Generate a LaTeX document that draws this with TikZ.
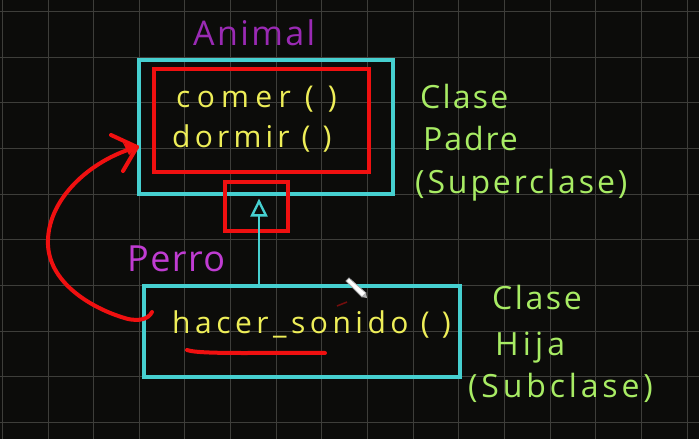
\documentclass[tikz,border=0pt]{standalone}
\usepackage{fontspec}
\usetikzlibrary{arrows.meta}
\newfontfamily\hand{Open Sans}
\definecolor{bg}{HTML}{0C0C0A}
\definecolor{gridc}{HTML}{3E3E3A}
\definecolor{cyanc}{HTML}{46D0D0}
\definecolor{redc}{HTML}{F01010}
\definecolor{yellowc}{HTML}{EEEE58}
\definecolor{greenc}{HTML}{A8EC64}
\definecolor{purplec}{HTML}{9A2AB4}
\definecolor{magentac}{HTML}{C03CD2}
\tikzset{
  gridline/.style={draw=gridc, line width=0.9pt},
  classbox/.style={draw=cyanc, line width=3.2pt, inner sep=0pt},
  hilite/.style={draw=redc, line width=4.8pt, inner sep=0pt},
  txt/.style={inner sep=0pt, anchor=base west},
  method/.style={txt, text=yellowc, font=\hand\fontsize{30}{36}\selectfont},
  label/.style={txt, text=greenc, font=\hand\fontsize{32}{38}\selectfont},
  inh/.style={draw=cyanc, line width=2.4pt, -{Triangle[open, length=18pt, width=17pt, line width=2.4pt]}},
  redpen/.style={draw=redc, line width=4pt, line cap=round, line join=round},
}
\begin{document}
\begin{tikzpicture}[x=1pt, y=-1pt]
\useasboundingbox (0,0) rectangle (699,439);
\fill[bg] (0,0) rectangle (699,439);
\foreach \i in {0,...,15} \draw[gridline] ({2.3+45.65*\i},0) -- ({2.3+45.65*\i},439);
\foreach \j in {0,...,9} \draw[gridline] (0,{11.5+45.65*\j}) -- (699,{11.5+45.65*\j});

% parent class
\node[classbox, minimum width=254pt, minimum height=134pt] (parent) at (266,127) {};
\node[hilite, minimum width=215pt, minimum height=103pt] (methods) at (261.5,120.5) {};
\node[txt, text=purplec, font=\hand\fontsize{34}{40}\selectfont] (animal) at (193,45) {\addfontfeature{LetterSpace=7}Animal};
\node[method] (comer) at (176,107) {\addfontfeature{LetterSpace=21}comer ( )};
\node[method] (dormir) at (172,147) {\addfontfeature{LetterSpace=14}dormir ( )};

% child class
\node[classbox, minimum width=316pt, minimum height=91pt] (child) at (302,331.5) {};
\node[txt, text=magentac, font=\hand\fontsize{36}{42}\selectfont] (perro) at (127,271) {\addfontfeature{LetterSpace=4}Perro};
\node[method] (hs) at (172,333) {\addfontfeature{LetterSpace=15}hacer\_sonido ( )};

% inheritance arrow with highlight
\node[hilite, minimum width=63pt, minimum height=49pt] (tiphl) at (256.5,206.5) {};
\coordinate (ax) at (259,0);
\draw[inh] (child.north -| ax) -- ([yshift=-3pt]parent.south -| ax);

% labels
\node[label] (c1) at (420,108) {\addfontfeature{LetterSpace=7}Clase};
\node[label] (p1) at (423,150) {\addfontfeature{LetterSpace=6}Padre};
\node[label] (s1) at (415,193) {\addfontfeature{LetterSpace=9}(Superclase)};
\node[label] (c2) at (492,309) {\addfontfeature{LetterSpace=8}Clase};
\node[label] (h2) at (495,355) {\addfontfeature{LetterSpace=13}Hija};
\node[label] (s2) at (468,397) {\addfontfeature{LetterSpace=12}(Subclase)};

% red annotations
\coordinate (cs) at (152,312);
\coordinate (ce) at (137,147);
\draw[redpen] (cs) .. controls (148,320) and (138,321) .. (128,319)
  .. controls (95,310) and (50,285) .. (48,245)
  .. controls (46,200) and (90,160) .. (ce);
\draw[redpen] (ce) -- ++(-26,-12);
\draw[redpen] (ce) -- ++(-14,24);
\fill[redc] (ce) -- ++(-14,-4) -- ++(6,12) -- cycle;
\coordinate (u1) at (187,350);
\coordinate (u2) at (325,353);
\draw[redpen] (u1) .. controls (200,355) and (280,352) .. (u2);
\draw[draw=redc!45!bg, line width=1.5pt] (337,306) -- (347,302);

% pencil cursor
\draw[fill=white, draw=gray!70, line width=0.8pt] (346,281) -- (349,278) -- (366,293) -- (362,297) -- cycle;
\fill[gray!60] (362,297) -- (366,293) -- (367,298) -- cycle;
\end{tikzpicture}
\end{document}
